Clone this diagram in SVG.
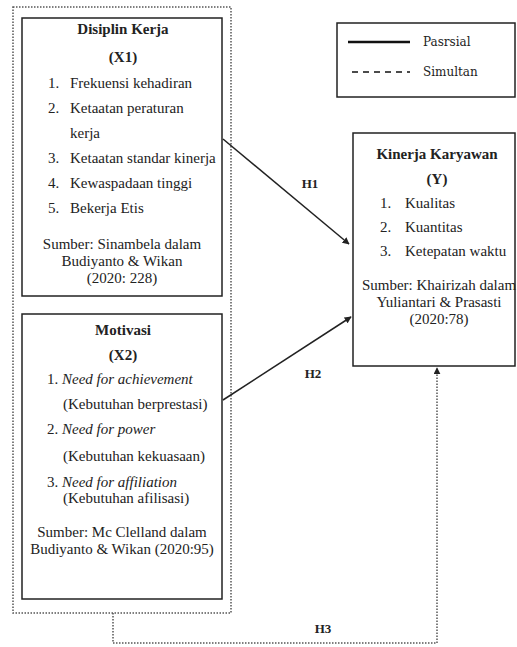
<svg xmlns="http://www.w3.org/2000/svg" width="517" height="647" viewBox="0 0 517 647" font-family="Liberation Serif, serif">
<style>
text{font-family:"Liberation Serif","Times New Roman",serif;font-size:15px;fill:#222}
.b{font-weight:bold}
.c{text-anchor:middle}
.i{font-style:italic}
.box{fill:none;stroke:#222;stroke-width:1.5}
.dot{fill:none;stroke:#555;stroke-width:1.5;stroke-dasharray:1.5,1.5}
.arr{fill:none;stroke:#222;stroke-width:1.5}
.h{font-size:13px}
text.lg{font-family:"DejaVu Serif",serif;font-size:12px}
</style>
<defs>
<marker id="ah" viewBox="0 0 10 10" refX="9" refY="5" markerWidth="7" markerHeight="7" orient="auto" markerUnits="userSpaceOnUse">
<path d="M0,0 L10,5 L0,10 z" fill="#222"/>
</marker>
</defs>
<rect width="517" height="647" fill="#fff"/>
<g id="group-x">
<rect class="dot" x="13" y="7" width="218" height="606"/>
</g>
<g id="legend">
<rect class="box" x="337" y="23" width="178" height="74"/>
<line x1="348" y1="42" x2="410" y2="42" stroke="#111" stroke-width="2.5"/>
<line x1="352" y1="72" x2="410" y2="72" stroke="#111" stroke-width="1.3" stroke-dasharray="6,5"/>
<text class="lg" x="423" y="46">Pasrsial</text>
<text class="lg" x="423" y="76">Simultan</text>
</g>
<g id="x1">
<rect class="box" x="22" y="18" width="200" height="278"/>
<text class="b c" x="123" y="34">Disiplin Kerja</text>
<text class="b c" x="123" y="62">(X1)</text>
<text x="48" y="88">1.</text><text x="70" y="88">Frekuensi kehadiran</text>
<text x="48" y="113">2.</text><text x="70" y="113">Ketaatan peraturan</text>
<text x="70" y="138">kerja</text>
<text x="48" y="163">3.</text><text x="70" y="163">Ketaatan standar kinerja</text>
<text x="48" y="188">4.</text><text x="70" y="188">Kewaspadaan tinggi</text>
<text x="48" y="213">5.</text><text x="70" y="213">Bekerja Etis</text>
<text class="c" x="122" y="249">Sumber: Sinambela dalam</text>
<text class="c" x="122" y="266">Budiyanto &amp; Wikan</text>
<text class="c" x="122" y="283">(2020: 228)</text>
</g>
<g id="x2">
<rect class="box" x="22" y="314" width="200" height="285"/>
<text class="b c" x="123" y="335">Motivasi</text>
<text class="b c" x="123" y="360">(X2)</text>
<text x="47" y="384">1. <tspan class="i">Need for achievement</tspan></text>
<text x="63" y="409">(Kebutuhan berprestasi)</text>
<text x="47" y="434">2. <tspan class="i">Need for power</tspan></text>
<text x="63" y="461">(Kebutuhan kekuasaan)</text>
<text x="47" y="487">3. <tspan class="i">Need for affiliation</tspan></text>
<text x="63" y="503">(Kebutuhan afilisasi)</text>
<text class="c" x="122" y="537">Sumber: Mc Clelland dalam</text>
<text class="c" x="122" y="554">Budiyanto &amp; Wikan (2020:95)</text>
</g>
<g id="y">
<rect class="box" x="353" y="133" width="162" height="233"/>
<text class="b c" x="437" y="159">Kinerja Karyawan</text>
<text class="b c" x="437" y="184">(Y)</text>
<text x="380" y="208">1.</text><text x="405" y="208">Kualitas</text>
<text x="380" y="232">2.</text><text x="405" y="232">Kuantitas</text>
<text x="380" y="256">3.</text><text x="405" y="256">Ketepatan waktu</text>
<text class="c" x="439" y="290">Sumber: Khairizah dalam</text>
<text class="c" x="439" y="307">Yuliantari &amp; Prasasti</text>
<text class="c" x="439" y="324">(2020:78)</text>
</g>
<g id="connectors">
<line class="arr" x1="223" y1="139" x2="349" y2="244" marker-end="url(#ah)"/>
<line class="arr" x1="223" y1="400" x2="351" y2="317" marker-end="url(#ah)"/>
<path class="dot" d="M113,613 V643 H437 V368" marker-end="url(#ah)"/>
<text class="h c b" x="310" y="188">H1</text>
<text class="h c b" x="313" y="378">H2</text>
<text class="h c b" x="323" y="633">H3</text>
</g>
</svg>
